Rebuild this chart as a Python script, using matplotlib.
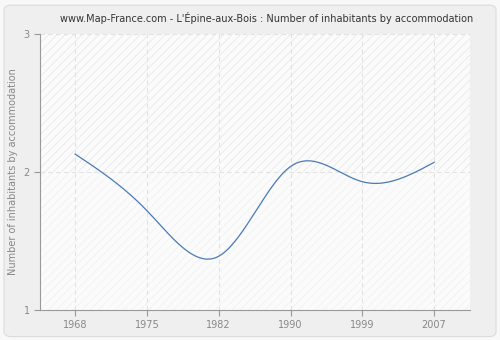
import numpy as np
import matplotlib.pyplot as plt
from matplotlib.patches import FancyBboxPatch, Rectangle

years = ['1968', '1975', '1982', '1990', '1999', '2007']
values = [2.13, 1.72, 1.39, 2.04, 1.93, 2.07]
title = "www.Map-France.com - L'Épine-aux-Bois : Number of inhabitants by accommodation"
ylabel = "Number of inhabitants by accommodation"


def natural_spline(x, y, n=300):
    # plain natural cubic spline, evaluated on a fine grid
    x = np.asarray(x, float)
    y = np.asarray(y, float)
    k = len(x)
    h = np.diff(x)
    A = np.zeros((k, k))
    b = np.zeros(k)
    A[0, 0] = A[-1, -1] = 1
    for i in range(1, k - 1):
        A[i, i - 1] = h[i - 1]
        A[i, i] = 2 * (h[i - 1] + h[i])
        A[i, i + 1] = h[i]
        b[i] = 3 * ((y[i + 1] - y[i]) / h[i] - (y[i] - y[i - 1]) / h[i - 1])
    c = np.linalg.solve(A, b)
    xs = np.linspace(x[0], x[-1], n)
    ys = np.empty_like(xs)
    for j, t in enumerate(xs):
        i = min(np.searchsorted(x, t, side='right') - 1, k - 2)
        dx = t - x[i]
        bi = (y[i + 1] - y[i]) / h[i] - h[i] * (2 * c[i] + c[i + 1]) / 3
        di = (c[i + 1] - c[i]) / (3 * h[i])
        ys[j] = y[i] + bi * dx + c[i] * dx ** 2 + di * dx ** 3
    return xs, ys


fig = plt.figure(figsize=(5, 3.4), dpi=100, facecolor='#f8f8f8')
panel = FancyBboxPatch((0.008, 0.01), 0.984, 0.975, boxstyle='round,pad=0,rounding_size=0.015',
                       transform=fig.transFigure, facecolor='#efefef', edgecolor='#dcdcdc',
                       linewidth=0.8, zorder=-10)
fig.patches.append(panel)

ax = fig.add_axes([0.08, 0.088, 0.86, 0.812])
ax.set_facecolor('#fbfbfb')
plt.rcParams['hatch.linewidth'] = 0.5

pos = np.arange(len(years))
ax.set_xlim(-0.49, 5.5)
ax.set_ylim(1, 3)

# hatched background, stronger above 2
ax.add_patch(Rectangle((-0.49, 2), 6, 1, facecolor='none', edgecolor='#e6e6e6',
                       hatch='////', linewidth=0, zorder=0))
ax.add_patch(Rectangle((-0.49, 1), 6, 1, facecolor='none', edgecolor='#f0f0f0',
                       hatch='////', linewidth=0, zorder=0))

xs, ys = natural_spline(pos, values)
ax.plot(xs, ys, color='#4a7ab5', linewidth=0.9, zorder=3)

ax.set_xticks(pos)
ax.set_xticklabels(years)
ax.set_yticks([1, 2, 3])
for p in pos:
    ax.axvline(p, color='#e2e2e2', linestyle=(0, (4, 3)), linewidth=0.8, zorder=1)
for v in [2, 3]:
    ax.axhline(v, color='#e2e2e2', linestyle=(0, (4, 3)), linewidth=0.8, zorder=1)

for s in ['top', 'right']:
    ax.spines[s].set_visible(False)
for s in ['left', 'bottom']:
    ax.spines[s].set_color('#999999')
    ax.spines[s].set_linewidth(0.8)
ax.tick_params(colors='#999999', labelcolor='#888888', labelsize=7, length=4, width=0.8)

ax.set_ylabel(ylabel, color='#888888', fontsize=7, labelpad=4)
fig.text(0.534, 0.948, title, ha='center', va='center', fontsize=7, color='#333333')

fig.savefig('out.png', dpi=100, facecolor=fig.get_facecolor())
